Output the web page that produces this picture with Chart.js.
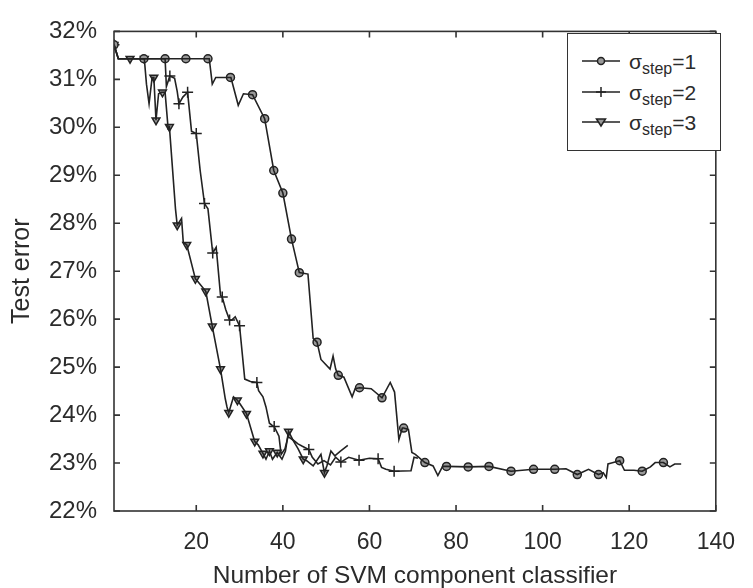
<!DOCTYPE html>
<html>
<head>
<meta charset="utf-8">
<script src="https://cdn.jsdelivr.net/npm/chart.js@4.4.0/dist/chart.umd.min.js"></script>
<style>
  html, body { margin: 0; padding: 0; background: #fff; }
  #wrap { position: relative; width: 753px; height: 588px; }
  #legend {
    position: absolute; left: 567px; top: 33px; width: 152px; height: 116px;
    border: 1.5px solid #333; background: #fff;
    font-family: "Liberation Sans", Arial, sans-serif; color: #2b2b2b;
  }
  .row { position: absolute; left: 14px; height: 30px; display: flex; align-items: center; }
  .row svg { display: block; }
  .lab { margin-left: 7px; font-size: 21px; line-height: 21px; white-space: nowrap; }
  .lab sub { font-size: 16px; vertical-align: -5px; line-height: 0; }
</style>
</head>
<body>
<div id="wrap">
  <canvas id="chart" width="753" height="588"></canvas>
  <div id="legend">
    <div class="row" style="top:12px">
      <svg width="40" height="20"><line x1="0" y1="10" x2="38" y2="10" stroke="#222" stroke-width="1.5"/><circle cx="19" cy="10" r="3.5" fill="#999" stroke="#222" stroke-width="1.5"/></svg>
      <span class="lab">σ<sub>step</sub>=1</span>
    </div>
    <div class="row" style="top:43px">
      <svg width="40" height="20"><line x1="0" y1="10" x2="38" y2="10" stroke="#222" stroke-width="1.5"/><path d="M19 5 V15 M14 10 H24" stroke="#222" stroke-width="1.5"/></svg>
      <span class="lab">σ<sub>step</sub>=2</span>
    </div>
    <div class="row" style="top:73px">
      <svg width="40" height="20"><line x1="0" y1="10" x2="38" y2="10" stroke="#222" stroke-width="1.5"/><path d="M14.5 7 H23.5 L19 14 Z" fill="#999" stroke="#222" stroke-width="1.5"/></svg>
      <span class="lab">σ<sub>step</sub>=3</span>
    </div>
  </div>
</div>
<script>
var xTicks = [20, 40, 60, 80, 100, 120, 140];
var yTicks = [22, 23, 24, 25, 26, 27, 28, 29, 30, 31, 32];

// sigma_step = 1 (circles)
var s1Line = [[1,31.72],[2,31.43],[23,31.43],[23.7,30.9],[24.5,31.04],[28,31.04],[29.7,30.46],[30.9,30.7],[33,30.68],
  [35.8,30.18],[37.9,29.1],[40,28.63],[42,27.67],[43.8,26.97],[45.8,26.94],[47,25.6],[47.9,25.52],[48.8,25.16],
  [50.9,24.96],[51.6,25.23],[52.2,24.96],[52.8,24.83],[54.1,24.79],[56,24.38],[56.7,24.55],[57.7,24.57],[60.4,24.55],
  [62.9,24.36],[64.8,24.68],[65.8,24.48],[66.8,23.49],[67.6,23.73],[67.9,23.73],[69,23.7],[69.8,23.22],[70.6,23.18],
  [72.8,23.01],[74.7,22.94],[75.8,22.74],[76.9,22.93],[77.8,22.93],[82.8,22.92],[87.6,22.93],[92.7,22.83],[97.9,22.87],
  [102.8,22.87],[105.4,22.88],[108,22.76],[110.6,22.87],[112.9,22.76],[114,22.8],[114.7,22.7],[115.1,22.98],[115.9,23.0],
  [117.8,23.05],[118.9,22.85],[121.1,22.85],[123,22.83],[124.9,22.92],[126,23.01],[127.9,23.01],[129.4,22.92],
  [130.5,22.98],[132,22.98]];
var s1Marks = [[1,31.72],[7.9,31.43],[12.8,31.43],[17.6,31.43],[22.7,31.43],[27.9,31.04],[33,30.68],[35.8,30.18],
  [37.9,29.1],[40,28.63],[42,27.67],[43.8,26.97],[47.9,25.52],[52.8,24.83],[57.7,24.57],[62.9,24.36],[67.9,23.73],
  [72.8,23.01],[77.8,22.93],[82.8,22.92],[87.6,22.93],[92.7,22.83],[97.9,22.87],[102.8,22.87],[108,22.76],
  [112.9,22.76],[117.8,23.05],[123,22.83],[127.9,23.01]];

// sigma_step = 2 (plus)
var s2Line = [[1,31.72],[2,31.43],[12.8,31.43],[13.1,30.85],[13.9,31.07],[15,31.02],[15.6,30.75],[16,30.49],[16.9,30.63],
  [18,30.73],[18.9,29.92],[20,29.87],[20.9,29.1],[21.9,28.41],[22.7,28.3],[23.8,27.38],[24.6,27.5],[25.6,26.5],[26,26.46],
  [26.8,26.2],[27.7,25.98],[28.2,25.98],[29,26.05],[30,25.86],[31.2,24.75],[32.5,24.7],[34,24.68],[34.4,24.51],
  [35.4,24.38],[36.1,24.17],[36.9,23.83],[37.6,23.78],[38,23.76],[39.1,23.56],[39.6,23.18],[40.5,23.3],[41.2,23.55],
  [42.5,23.47],[43.5,23.4],[44.5,23.35],[46,23.28],[46.8,23.12],[48.1,22.98],[49.5,23.05],[51,22.96],[52.2,23.12],
  [53.4,23.02],[55.2,23.12],[57.6,23.06],[60,23.1],[62,23.09],[62.8,22.91],[63.8,22.87],[65.7,22.83],[69.6,22.84],
  [70.3,23.12],[71.2,23.1]];
var s2Marks = [[1,31.72],[13.9,31.07],[16,30.49],[18,30.73],[20,29.87],[21.9,28.41],[23.8,27.38],[26,26.46],[27.7,25.98],
  [30,25.86],[34,24.68],[38,23.76],[46,23.28],[53.4,23.02],[57.6,23.06],[62,23.09],[65.7,22.83]];

// sigma_step = 3 (triangles)
var s3Line = [[1,31.72],[2,31.43],[8,31.43],[8.5,30.9],[9.1,30.49],[9.8,31.04],[10.2,31.04],[10.7,30.15],[11.3,30.7],
  [12,30.73],[12.8,30.73],[13.5,29.98],[13.8,30.01],[15.2,28.3],[15.6,27.96],[16.6,28.1],[17,27.6],[17.8,27.55],
  [19.8,26.84],[20.4,26.78],[22.2,26.58],[23.7,25.85],[25.6,24.96],[26.7,24.34],[27.1,24.17],[27.5,24.05],[28.6,24.38],
  [29.5,24.31],[30.2,24.22],[31.6,24.03],[33.5,23.45],[34.3,23.38],[35.4,23.2],[36.1,23.08],[36.9,23.25],[37.6,23.08],
  [38.7,23.22],[39.8,23.08],[40.6,23.25],[41.3,23.66],[42.5,23.45],[43.5,23.3],[44.7,23.08],[45.5,23.05],[47,22.94],
  [48.8,23.18],[49.6,22.8],[50.2,22.95],[51.1,23.25],[52,23.15],[53.3,23.25],[55,23.37]];
var s3Marks = [[1,31.72],[4.7,31.43],[8,31.43],[10.2,31.04],[10.7,30.15],[12.2,30.73],[13.8,30.01],[15.6,27.96],
  [17.8,27.55],[19.8,26.84],[22.2,26.58],[23.7,25.85],[25.6,24.96],[27.5,24.05],[29.5,24.31],[31.6,24.03],[33.5,23.45],
  [35.4,23.2],[36.9,23.25],[38.7,23.22],[41.3,23.66],[44.7,23.08],[49.6,22.8]];

var ink = '#222';
var textColor = '#2b2b2b';
var fontFamily = '"Liberation Sans", Arial, sans-serif';

function pts(arr) {
  return arr.map(function (p) { return { x: p[0], y: p[1] }; });
}

function lineSet(arr) {
  return { data: pts(arr), borderColor: ink, borderWidth: 1.6, pointRadius: 0, fill: false, tension: 0 };
}

function markSet(arr, style, opts) {
  var ds = { data: pts(arr), showLine: false, pointStyle: style, pointRadius: 4,
    pointBorderColor: ink, pointBackgroundColor: '#999', pointBorderWidth: 1.5 };
  return Object.assign(ds, opts || {});
}

// box round the plot with inward ticks on all four sides
var framePlugin = {
  id: 'frame',
  afterDraw: function (chart) {
    var ctx = chart.ctx, a = chart.chartArea, x = chart.scales.x, y = chart.scales.y;
    ctx.save();
    ctx.strokeStyle = '#333';
    ctx.lineWidth = 1.6;
    ctx.strokeRect(a.left, a.top, a.right - a.left, a.bottom - a.top);
    ctx.beginPath();
    xTicks.forEach(function (v) {
      var px = x.getPixelForValue(v);
      ctx.moveTo(px, a.bottom); ctx.lineTo(px, a.bottom - 6);
      ctx.moveTo(px, a.top); ctx.lineTo(px, a.top + 6);
    });
    yTicks.forEach(function (v) {
      var py = y.getPixelForValue(v);
      ctx.moveTo(a.left, py); ctx.lineTo(a.left + 6, py);
      ctx.moveTo(a.right, py); ctx.lineTo(a.right - 6, py);
    });
    ctx.stroke();
    ctx.restore();
  }
};

new Chart(document.getElementById('chart'), {
  type: 'line',
  data: {
    datasets: [
      lineSet(s1Line), lineSet(s2Line), lineSet(s3Line),
      markSet(s1Marks, 'circle', { pointRadius: 4 }),
      markSet(s2Marks, 'cross', { pointRadius: 5.5 }),
      markSet(s3Marks, 'triangle', { pointRadius: 4.5, pointRotation: 180 })
    ]
  },
  options: {
    responsive: false,
    animation: false,
    layout: { padding: { top: 23, right: 20, left: 0, bottom: 0 } },
    plugins: { legend: { display: false }, tooltip: { enabled: false } },
    scales: {
      x: {
        type: 'linear', min: 1, max: 140,
        afterBuildTicks: function (s) { s.ticks = xTicks.map(function (v) { return { value: v }; }); },
        afterFit: function (s) { s.height = 77; },
        grid: { display: false, drawTicks: false },
        border: { display: false },
        ticks: { color: textColor, font: { family: fontFamily, size: 23 }, padding: 18, maxRotation: 0 },
        title: { display: true, text: 'Number of SVM component classifier', color: textColor,
          font: { family: fontFamily, size: 24.5, lineHeight: 1 }, padding: 0 }
      },
      y: {
        min: 22, max: 32,
        afterBuildTicks: function (s) { s.ticks = yTicks.map(function (v) { return { value: v }; }); },
        afterFit: function (s) { s.width = 114; },
        grid: { display: false, drawTicks: false },
        border: { display: false },
        ticks: { color: textColor, font: { family: fontFamily, size: 24 }, padding: 17,
          callback: function (v) { return v + '%'; } },
        title: { display: true, text: 'Test error', color: textColor,
          font: { family: fontFamily, size: 25, lineHeight: 1 }, padding: { top: 10, bottom: 0 } }
      }
    }
  },
  plugins: [framePlugin]
});
</script>
</body>
</html>
